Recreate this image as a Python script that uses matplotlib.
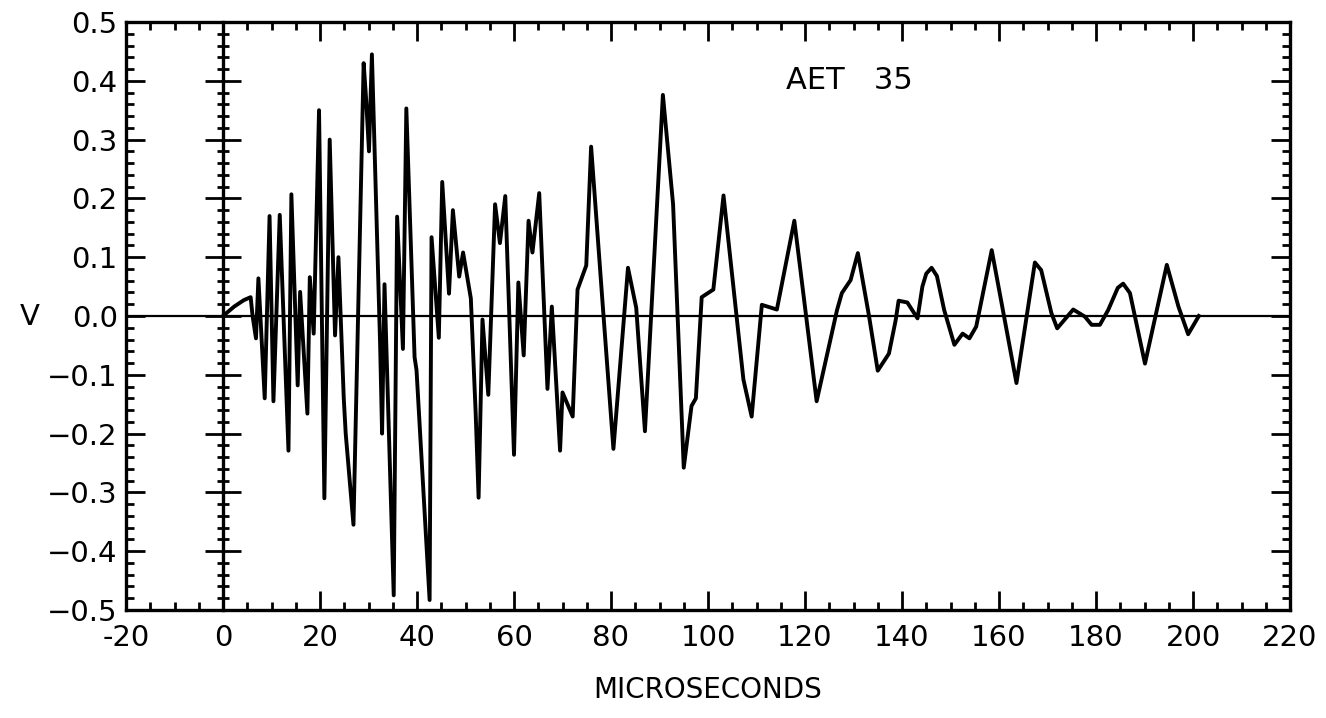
import numpy as np
import matplotlib
matplotlib.use("Agg")
import matplotlib.pyplot as plt
from matplotlib.ticker import MultipleLocator

# waveform (microseconds, volts)
t_us = [0.0, 2.3, 4.3, 5.7, 6.1, 6.8, 7.3, 8.6, 9.6, 10.4, 11.7, 13.5, 14.1,
        15.4, 15.9, 17.4, 17.9, 18.7, 19.8, 20.9, 22.0, 23.1, 23.8, 24.9,
        25.3, 26.9, 29.0, 29.5, 30.1, 30.7, 32.4, 32.8, 33.3, 35.2, 35.9,
        37.1, 37.8, 39.5, 39.9, 42.6, 43.0, 44.5, 45.2, 46.6, 47.4, 48.7,
        49.5, 51.1, 52.1, 52.7, 53.5, 54.2, 54.7, 56.1, 57.1, 58.2, 60.0,
        60.9, 62.0, 63.0, 63.8, 65.2, 66.9, 67.8, 69.5, 70.0, 72.1, 73.1,
        74.9, 75.9, 78.2, 80.5, 83.5, 85.2, 87.0, 90.7, 92.8, 95.0, 96.6,
        97.5, 98.7, 101.1, 103.2, 107.3, 109.0, 111.1, 114.2, 117.8, 122.4,
        126.6, 127.6, 129.4, 130.9, 133.2, 135.0, 137.3, 138.7, 139.3, 141.1,
        143.2, 144.2, 145.0, 146.1, 147.2, 148.7, 150.8, 152.5, 153.9, 155.3,
        158.5, 163.6, 167.4, 168.7, 170.8, 172.0, 175.3, 177.7, 179.1, 180.8,
        182.5, 184.5, 185.6, 187.0, 190.1, 194.6, 197.0, 199.0, 201.2]
volts = [0.0, 0.016, 0.027, 0.032, 0.0, -0.038, 0.064, -0.14, 0.17, -0.145,
         0.172, -0.229, 0.207, -0.118, 0.041, -0.166, 0.066, -0.03, 0.35,
         -0.31, 0.30, -0.033, 0.10, -0.14, -0.20, -0.355, 0.43, 0.37, 0.28,
         0.445, -0.05, -0.20, 0.054, -0.475, 0.169, -0.056, 0.353, -0.07,
         -0.092, -0.483, 0.134, -0.037, 0.228, 0.038, 0.18, 0.067, 0.108,
         0.03, -0.166, -0.309, -0.006, -0.08, -0.134, 0.19, 0.124, 0.204,
         -0.236, 0.057, -0.067, 0.162, 0.108, 0.209, -0.124, 0.016, -0.229,
         -0.13, -0.171, 0.045, 0.086, 0.288, 0.029, -0.226, 0.082, 0.014,
         -0.196, 0.376, 0.19, -0.258, -0.153, -0.14, 0.032, 0.045, 0.205,
         -0.108, -0.171, 0.019, 0.011, 0.162, -0.145, 0.01, 0.039, 0.061,
         0.107, 0.0, -0.093, -0.064, -0.007, 0.026, 0.023, -0.004, 0.05,
         0.072, 0.082, 0.068, 0.01, -0.049, -0.03, -0.038, -0.018, 0.112,
         -0.114, 0.091, 0.078, 0.005, -0.021, 0.011, -0.001, -0.015, -0.015,
         0.01, 0.048, 0.055, 0.039, -0.081, 0.087, 0.016, -0.031, 0.0]

label_text = "AET   35"

fig = plt.figure(figsize=(13.26, 7.18), dpi=100)
ax = fig.add_axes([126 / 1326, 1 - 610 / 718, 1164 / 1326, 588 / 718])

ax.plot(t_us, volts, color="black", lw=2.8, solid_joinstyle="round")
ax.axhline(0, color="black", lw=1.6)

ax.set_xlim(-20, 220)
ax.set_ylim(-0.5, 0.5)
ax.xaxis.set_major_locator(MultipleLocator(20))
ax.xaxis.set_minor_locator(MultipleLocator(5))
ax.yaxis.set_major_locator(MultipleLocator(0.1))
ax.yaxis.set_minor_locator(MultipleLocator(0.02))
ax.xaxis.set_major_formatter(lambda v, pos: f"{v:.0f}")
ax.yaxis.set_major_formatter(lambda v, pos: f"{v:.1f}".replace("-", "\u2212"))

ax.tick_params(which="both", direction="in", top=True, right=True, width=2,
               labelsize=21)
ax.tick_params(which="major", length=14)
ax.tick_params(which="minor", length=6)
ax.tick_params(axis="x", pad=10)
ax.tick_params(axis="y", pad=6)
for s in ax.spines.values():
    s.set_linewidth(2.4)

# the axis drawn through t = 0
sec = ax.secondary_yaxis(20 / 240)
sec.yaxis.set_major_locator(MultipleLocator(0.1))
sec.yaxis.set_minor_locator(MultipleLocator(0.02))
sec.tick_params(which="both", direction="inout", width=2,
                labelleft=False, labelright=False)
sec.tick_params(which="major", length=26)
sec.tick_params(which="minor", length=9)
for s in sec.spines.values():
    s.set_linewidth(2.4)

ax.text(116, 0.4, label_text, fontsize=22, va="center", ha="left")
fig.text(30 / 1326, 1 - 317 / 718, "V", fontsize=21, ha="center", va="center")
fig.text(708 / 1326, 1 - 690 / 718, "MICROSECONDS", fontsize=20,
         ha="center", va="center")

fig.savefig("out.png", dpi=100)
